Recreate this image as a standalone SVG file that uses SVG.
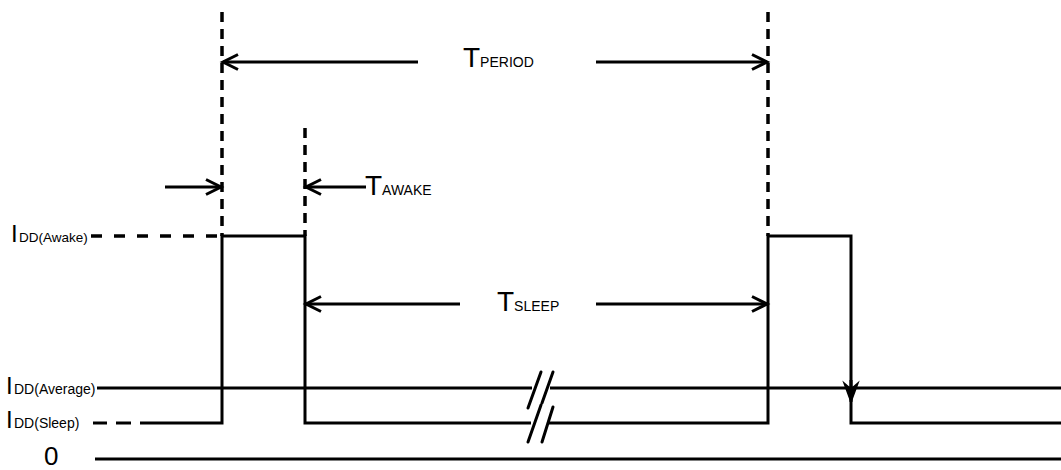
<svg xmlns="http://www.w3.org/2000/svg" width="1061" height="470" viewBox="0 0 1061 470">
<style>
.ln{stroke:#000;stroke-width:3;fill:none}
.dv{stroke:#000;stroke-width:3.5;fill:none;stroke-dasharray:10 7}
.dh{stroke:#000;stroke-width:3.5;fill:none;stroke-dasharray:11 12}
.sl{stroke:#000;stroke-width:3;fill:none;stroke-linecap:round}
text{font-family:"Liberation Sans",Arial,sans-serif;fill:#000}
.big{font-size:28px}
.sub{font-size:14px}
</style>
<defs>
<marker id="ah" markerWidth="20" markerHeight="20" viewBox="-16 -10 20 20" refX="0" refY="0" orient="auto" markerUnits="userSpaceOnUse">
<path d="M-15,-7.5 L0,0 L-15,7.5" fill="none" stroke="#000" stroke-width="3"/>
</marker>
<marker id="fh" markerWidth="24" markerHeight="24" viewBox="-22 -12 24 24" refX="0" refY="0" orient="auto" markerUnits="userSpaceOnUse">
<path d="M-19,-7 L0,0 L-19,7 L-13,0 Z" fill="#000" stroke="#000" stroke-width="1.5" stroke-linejoin="miter"/>
</marker>
</defs>

<g id="guides">
<line class="dv" x1="222" y1="12" x2="222" y2="236"/>
<line class="dv" x1="305" y1="128" x2="305" y2="236"/>
<line class="dv" x1="768" y1="12" x2="768" y2="236"/>
<line class="dh" x1="91" y1="236" x2="222" y2="236"/>
<line class="ln" x1="93" y1="423" x2="107" y2="423" stroke-width="3.5"/>
<line class="ln" x1="116" y1="423" x2="131" y2="423" stroke-width="3.5"/>
</g>

<g id="waveform">
<path class="ln" d="M140,423 H222 V236 H305 V423 H531"/>
<path class="ln" d="M548,423 H768 V236 H851 V423 H1061"/>
<line class="ln" x1="851" y1="380" x2="851" y2="402" marker-end="url(#fh)"/>
</g>

<g id="average">
<line class="ln" x1="97" y1="388" x2="532" y2="388"/>
<line class="ln" x1="550" y1="388" x2="1061" y2="388"/>
</g>

<g id="zero">
<line class="ln" x1="95" y1="459" x2="1061" y2="459"/>
</g>

<g id="breaks">
<line class="sl" x1="528" y1="408" x2="541" y2="372"/>
<line class="sl" x1="542" y1="403" x2="553" y2="372"/>
<line class="sl" x1="528" y1="442" x2="541" y2="405"/>
<line class="sl" x1="542" y1="442" x2="553" y2="407"/>
</g>

<g id="connectors">
<line class="ln" x1="418" y1="62" x2="223" y2="62" marker-end="url(#ah)"/>
<line class="ln" x1="596" y1="62" x2="767" y2="62" marker-end="url(#ah)"/>
<line class="ln" x1="165" y1="187" x2="221" y2="187" marker-end="url(#ah)"/>
<line class="ln" x1="366" y1="187" x2="306" y2="187" marker-end="url(#ah)"/>
<line class="ln" x1="460" y1="304" x2="306" y2="304" marker-end="url(#ah)"/>
<line class="ln" x1="596" y1="304" x2="767" y2="304" marker-end="url(#ah)"/>
</g>

<g id="label-period"><text x="463" y="67"><tspan class="big">T</tspan><tspan class="sub">PERIOD</tspan></text></g>
<g id="label-awake"><text x="365" y="195"><tspan class="big">T</tspan><tspan class="sub">AWAKE</tspan></text></g>
<g id="label-sleep"><text x="497" y="311"><tspan class="big">T</tspan><tspan class="sub">SLEEP</tspan></text></g>

<g id="label-idd-awake"><text x="11" y="242" font-size="24">I</text><text x="19" y="242" font-size="13.5">DD(Awake)</text></g>
<g id="label-idd-average"><text x="6" y="394" font-size="24">I</text><text x="14" y="394" font-size="14">DD(Average)</text></g>
<g id="label-idd-sleep"><text x="6" y="428" font-size="24">I</text><text x="14" y="428" font-size="14">DD(Sleep)</text></g>
<g id="label-zero"><text x="44" y="465" font-size="26">0</text></g>
</svg>
